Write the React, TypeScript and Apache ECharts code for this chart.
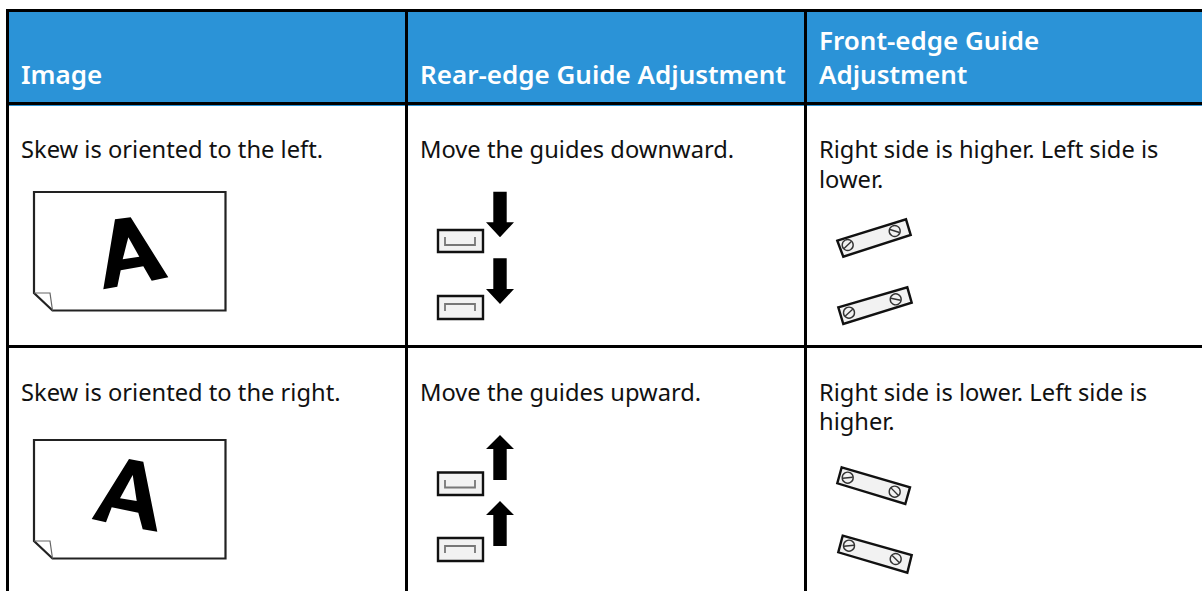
import React, { useEffect, useRef } from "react";
import * as echarts from "echarts";

const headerTexts = [
  { text: "Image", x: 21, y: 87.2 },
  { text: "Rear-edge Guide Adjustment", x: 420, y: 87.2 },
  { text: "Front-edge Guide", x: 819, y: 52.7 },
  { text: "Adjustment", x: 819, y: 87.2 },
];
const bodyTexts = [
  { text: "Skew is oriented to the left.", x: 21, y: 134.5 },
  { text: "Move the guides downward.", x: 420, y: 134.5 },
  { text: "Right side is higher. Left side is\nlower.", x: 819, y: 134.5 },
  { text: "Skew is oriented to the right.", x: 21, y: 377 },
  { text: "Move the guides upward.", x: 420, y: 377 },
  { text: "Right side is lower. Left side is\nhigher.", x: 819, y: 377 },
];
const FONT = "Noto Sans";

const rect = (x: number, y: number, w: number, h: number, fill: string) => ({
  type: "rect", shape: { x, y, width: w, height: h }, style: { fill },
});
const poly = (points: number[][], fill: string, stroke?: string, lineWidth = 0) => ({
  type: "polygon", shape: { points }, style: { fill, stroke, lineWidth },
});
const pline = (points: number[][], stroke: string, lineWidth: number) => ({
  type: "polyline", shape: { points }, style: { stroke, lineWidth, fill: "none" },
});

function sheet(ox: number, oy: number) {
  return [
    poly([[ox, oy], [ox + 191.5, oy], [ox + 191.5, oy + 118.5], [ox + 18.5, oy + 118.5], [ox, oy + 101]], "#fff", "#222", 2.2),
    pline([[ox, oy + 101], [ox + 16, oy + 101], [ox + 18.5, oy + 118.5]], "#666", 1.2),
  ];
}
const arrow = (cx: number, tail: number, base: number, tip: number) => poly([
  [cx - 6.7, tail], [cx + 6.7, tail], [cx + 6.7, base], [cx + 14, base], [cx, tip], [cx - 14, base], [cx - 6.7, base],
], "#000");
function box(y0: number, y1: number, innerA: number, innerB: number) {
  return [
    { type: "rect", shape: { x: 438, y: y0, width: 45, height: y1 - y0 }, style: { fill: "#f2f2f2", stroke: "#111", lineWidth: 2.4 } },
    pline([[445, innerA], [445, innerB], [475, innerB], [475, innerA]], "#777", 1.8),
  ];
}
function plate(corners: number[][], s1: number[], s2: number[], a1: number, a2: number) {
  const screw = (c: number[], a: number) => {
    const d = 5;
    return [
      { type: "circle", shape: { cx: c[0], cy: c[1], r: 5.5 }, style: { fill: "#f2f2f2", stroke: "#333", lineWidth: 1.4 } },
      { type: "line", shape: { x1: c[0] - d * Math.cos(a), y1: c[1] - d * Math.sin(a), x2: c[0] + d * Math.cos(a), y2: c[1] + d * Math.sin(a) }, style: { stroke: "#333", lineWidth: 1.4 } },
    ];
  };
  return [poly(corners, "#f2f2f2", "#111", 2.4), ...screw(s1, a1), ...screw(s2, a2)];
}

export default function App() {
  const ref = useRef<HTMLDivElement>(null);
  useEffect(() => {
    document.body.style.margin = "0";
    const chart = echarts.init(ref.current!, undefined, { renderer: "svg" });
    const elements: any[] = [
      rect(6, 9, 1196, 96, "#2b93d7"),
      rect(6, 9, 1196, 3, "#000"),
      rect(6, 102, 1196, 3, "#000"),
      rect(9, 105, 1193, 1, "#2b93d7"),
      rect(6, 9, 3, 582, "#000"),
      rect(405, 9, 3, 582, "#000"),
      rect(804, 9, 3, 582, "#000"),
      rect(6, 345, 1196, 3, "#000"),
      ...sheet(34, 192),
      poly([[115, 219.3], [130.7, 217.3], [168.3, 277.3], [151.7, 280.7], [143.3, 266.3], [120.7, 270.3], [117.3, 286.7], [103.3, 289.3]], "#000"),
      poly([[122.7, 259.3], [139.3, 256.7], [128.3, 237.3]], "#fff"),
      ...sheet(34, 440),
      poly([[129, 459], [143.3, 461.7], [157.3, 531.7], [142.7, 529.3], [138.3, 512.7], [111.7, 507.3], [106, 522.3], [91.7, 519]], "#000"),
      poly([[120, 498.3], [136.7, 501], [132.7, 475]], "#fff"),
      arrow(500, 191.7, 222.3, 237.3),
      ...box(230, 252, 237, 245),
      arrow(500, 258.3, 289, 304),
      ...box(296, 319, 311, 304),
      arrow(500, 480, 449, 435),
      ...box(472.5, 495, 480, 487.5),
      arrow(500, 546, 515, 501),
      ...box(538, 561, 553, 546),
      ...plate([[837.3, 240.7], [906, 219.3], [910.7, 235], [843.3, 256.7]], [847.7, 245], [894.7, 231], -0.75, 0.3),
      ...plate([[838.3, 307.3], [907.3, 287.3], [911.7, 302.7], [843.3, 324]], [849, 312.7], [895.7, 299.3], -0.75, 0.2),
      ...plate([[841.7, 467.3], [910, 487.3], [905.3, 504], [837.3, 483.3]], [847.7, 477.7], [894.7, 491.7], -0.1, 0.8),
      ...plate([[842.7, 535.7], [911.7, 555], [907.3, 572.7], [838.3, 552.3]], [849, 545.7], [895.7, 559], -0.1, 0.8),
      ...headerTexts.map((t) => ({
        type: "text", x: t.x, y: t.y,
        style: { text: t.text, fill: "#fff", font: `600 26px "${FONT}"`, verticalAlign: "bottom" },
      })),
      ...bodyTexts.map((t) => ({
        type: "text", x: t.x, y: t.y,
        style: { text: t.text, fill: "#111", font: `23.7px "${FONT}"`, verticalAlign: "top", lineHeight: 29.5 },
      })),
    ];
    chart.setOption({ animation: false, graphic: { elements: elements.map((e) => ({ silent: true, ...e })) } });
    return () => chart.dispose();
  }, []);
  return <div ref={ref} style={{ width: 1202, height: 591, overflow: "hidden" }} />;
}
